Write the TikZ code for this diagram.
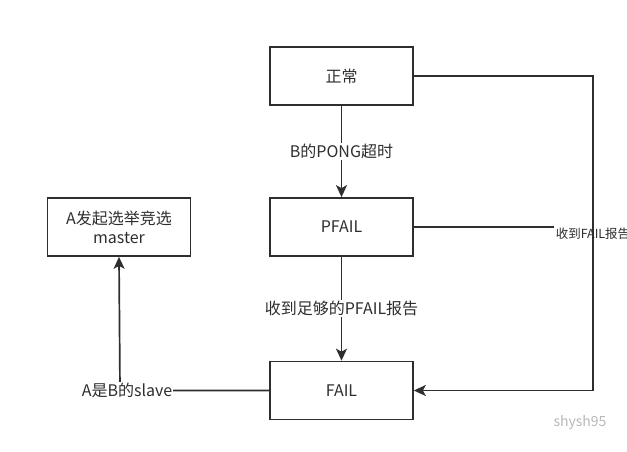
\documentclass[tikz,border=0pt]{standalone}
\usepackage{fontspec}
\setmainfont{Noto Sans CJK SC}
\usetikzlibrary{arrows.meta}
\definecolor{ink}{HTML}{2E2E2E}
\definecolor{mark}{HTML}{B8B8B8}
\begin{document}
\begin{tikzpicture}[x=1pt, y=-1pt, line width=1.7pt, draw=ink, text=ink,
	every node/.style={font=\fontsize{16}{19}\selectfont},
	box/.style={rectangle, draw, minimum width=143pt, minimum height=58pt, align=center},
	lbl/.style={fill=white, inner sep=1pt},
	>={Stealth[length=12pt, width=11pt, inset=3pt]}]
	\useasboundingbox (0,0) rectangle (627,451);

	\node[box] (normal) at (341.5, 76) {正常};
	\node[box] (pfail) at (341.5, 227) {PFAIL};
	\node[box] (fail) at (341.5, 390.5) {FAIL};
	\node[box] (elect) at (119, 227) {A发起选举竞选\\master};

	\coordinate (r1) at (593, 76);
	\coordinate (r2) at (593, 390.5);
	\coordinate (c1) at (120, 390.5);
	\node[lbl, font=\fontsize{12.5}{15}\selectfont] (rep) at (593, 234) {收到FAIL报告};

	\draw[->] (normal) -- node[lbl] {B的PONG超时} (pfail);
	\draw[->] (pfail) -- node[lbl] {收到足够的PFAIL报告} (fail);
	\draw[->] (normal.east) -- (r1) -- (r2) -- (fail.east);
	\draw (pfail.east) -- (pfail.east -| rep.west);
	\draw[->] (fail.west) -- (c1) node[lbl, xshift=7pt] {A是B的slave} -- (elect.south);

	\node[text=mark, font=\fontsize{14}{16}\selectfont] (wm) at (580, 423) {shysh95};
\end{tikzpicture}
\end{document}
